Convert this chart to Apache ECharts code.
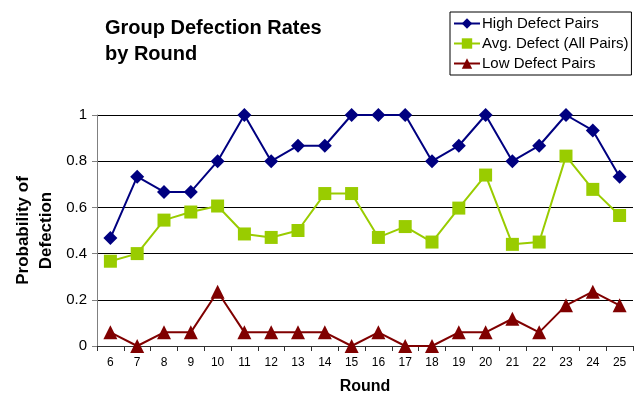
<!DOCTYPE html>
<html>
<head>
<meta charset="utf-8">
<script src="https://cdn.jsdelivr.net/npm/echarts@6/dist/echarts.min.js"></script>
<style>
  html, body { margin: 0; padding: 0; background: #fff; }
  #chart { width: 635px; height: 400px; }
</style>
</head>
<body>
<div id="chart"></div>
<script>
// 轮次
const rounds = ['6', '7', '8', '9', '10', '11', '12', '13', '14', '15', '16', '17', '18', '19', '20', '21', '22', '23', '24', '25'];
// 各组背叛率
const highDefect = [0.467, 0.733, 0.667, 0.667, 0.8, 1, 0.8, 0.867, 0.867, 1, 1, 1, 0.8, 0.867, 1, 0.8, 0.867, 1, 0.933, 0.733];
const avgDefect = [0.367, 0.4, 0.545, 0.58, 0.606, 0.485, 0.47, 0.5, 0.66, 0.66, 0.47, 0.517, 0.45, 0.597, 0.74, 0.44, 0.45, 0.822, 0.678, 0.565];
const lowDefect = [0.059, 0, 0.059, 0.059, 0.235, 0.059, 0.059, 0.059, 0.059, 0, 0.059, 0, 0, 0.059, 0.059, 0.118, 0.059, 0.176, 0.235, 0.176];

const FONT = 'Liberation Sans, Arial, sans-serif';

const chart = echarts.init(document.getElementById('chart'));
chart.setOption({
  animation: false,
  textStyle: { fontFamily: FONT },
  title: {
    text: 'Group Defection Rates\nby Round',
    left: 100, top: 10,
    textStyle: { fontSize: 20, fontWeight: 'bold', color: '#000', lineHeight: 26, fontFamily: FONT }
  },
  legend: {
    orient: 'vertical',
    left: 450, top: 12,
    padding: [4, 3, 4, 3],
    itemGap: 5,
    itemWidth: 26, itemHeight: 13,
    borderColor: '#000', borderWidth: 1,
    textStyle: { fontSize: 15, color: '#000', fontFamily: FONT, padding: [0, 0, 0, -3] },
    data: ['High Defect Pairs', 'Avg. Defect (All Pairs)', 'Low Defect Pairs']
  },
  grid: { left: 97, right: 2, top: 115, bottom: 54, containLabel: false },
  xAxis: {
    type: 'category',
    data: rounds,
    name: 'Round',
    nameLocation: 'middle',
    nameGap: 33,
    nameTextStyle: { fontSize: 16, fontWeight: 'bold', color: '#000' },
    axisLine: { lineStyle: { color: '#303030', width: 1 } },
    axisTick: { show: true, alignWithLabel: false, length: 5, lineStyle: { color: '#303030' } },
    axisLabel: { fontSize: 12, color: '#000', margin: 11 }
  },
  yAxis: {
    type: 'value',
    min: 0, max: 1, interval: 0.2,
    name: 'Probability of\nDefection',
    nameLocation: 'middle',
    nameGap: 39,
    nameMoveOverlap: false,
    nameTextStyle: { fontSize: 17, fontWeight: 'bold', color: '#000', lineHeight: 23 },
    axisLine: { show: true, lineStyle: { color: '#808080', width: 1 } },
    axisTick: { show: true, length: 5, lineStyle: { color: '#808080' } },
    axisLabel: { fontSize: 15, color: '#000', margin: 10 },
    splitLine: { lineStyle: { color: '#000', width: 1 } }
  },
  series: [
    {
      name: 'High Defect Pairs', type: 'line', data: highDefect,
      symbol: 'diamond', symbolSize: 14,
      lineStyle: { color: '#000080', width: 2 },
      itemStyle: { color: '#000080' }
    },
    {
      name: 'Avg. Defect (All Pairs)', type: 'line', data: avgDefect,
      symbol: 'rect', symbolSize: 13,
      lineStyle: { color: '#99CC00', width: 2 },
      itemStyle: { color: '#99CC00' }
    },
    {
      name: 'Low Defect Pairs', type: 'line', data: lowDefect,
      symbol: 'triangle', symbolSize: 14,
      lineStyle: { color: '#800000', width: 2 },
      itemStyle: { color: '#800000' }
    }
  ]
});
</script>
</body>
</html>
